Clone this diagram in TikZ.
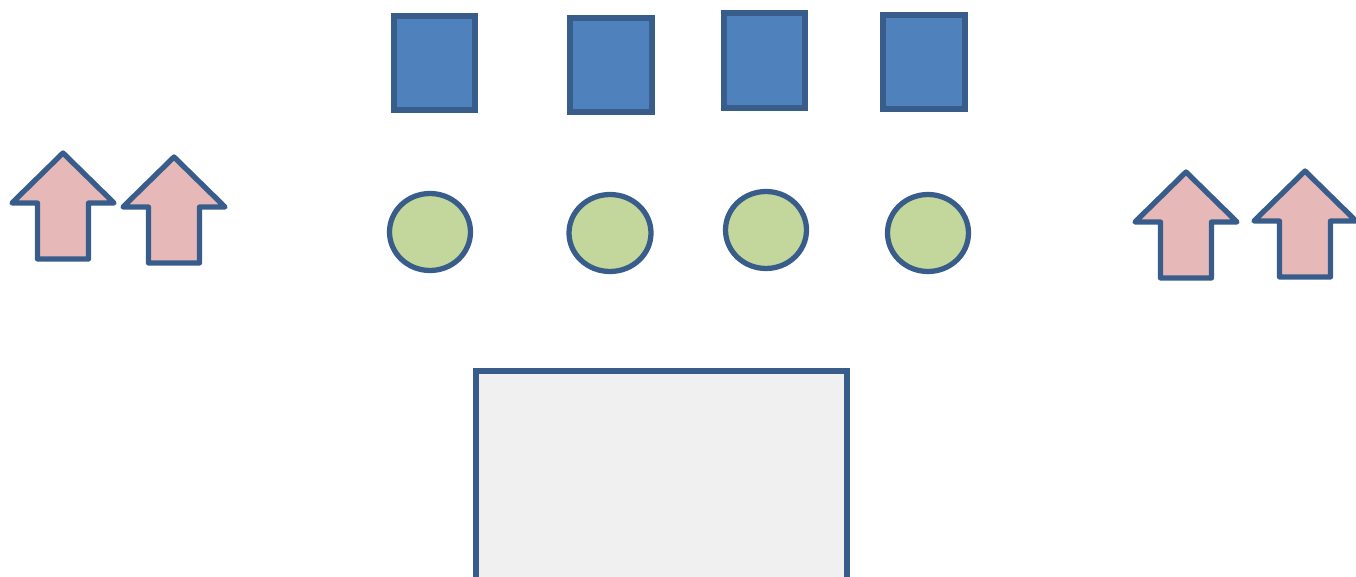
\documentclass[tikz,border=0pt]{standalone}
\usetikzlibrary{shapes.geometric}
\definecolor{boxblue}{RGB}{79,129,189}
\definecolor{edgeblue}{RGB}{56,93,138}
\definecolor{dotgreen}{RGB}{195,214,155}
\definecolor{arrowpink}{RGB}{230,185,184}
\definecolor{padgray}{RGB}{240,240,240}
\tikzset{
  blockbox/.style={draw=edgeblue, fill=boxblue, line width=3pt, inner sep=0pt},
  dotnode/.style={ellipse, draw=edgeblue, fill=dotgreen, line width=3pt, inner sep=0pt},
  uparrow/.style={draw=edgeblue, fill=arrowpink, line width=3pt, line join=round},
  padbox/.style={draw=edgeblue, fill=padgray, line width=3pt, inner sep=0pt}
}
% up arrow: tip x, tip y (pixels)
\newcommand{\pinkarrow}[2]{%
  \draw[uparrow] (#1,#2) -- ++(51,50) -- ++(-25.5,0) -- ++(0,56) -- ++(-51,0)
    -- ++(0,-56) -- ++(-25.5,0) -- cycle;}
\begin{document}
\begin{tikzpicture}[x=0.02cm, y=-0.02cm]
\useasboundingbox (0,0) rectangle (1356,577);
% blue squares
\node[blockbox, minimum width=1.62cm, minimum height=1.88cm] (sq1) at (434.5,63) {};
\node[blockbox, minimum width=1.64cm, minimum height=1.88cm] (sq2) at (611,65) {};
\node[blockbox, minimum width=1.62cm, minimum height=1.9cm] (sq3) at (764.5,60.5) {};
\node[blockbox, minimum width=1.64cm, minimum height=1.88cm] (sq4) at (924,62) {};
% green dots
\node[dotnode, minimum width=1.62cm, minimum height=1.54cm] (dot1) at (430,232) {};
\node[dotnode, minimum width=1.64cm, minimum height=1.54cm] (dot2) at (610,233) {};
\node[dotnode, minimum width=1.62cm, minimum height=1.54cm] (dot3) at (766,230) {};
\node[dotnode, minimum width=1.62cm, minimum height=1.54cm] (dot4) at (928,233) {};
% arrows
\pinkarrow{63}{153}
\pinkarrow{174}{157}
\pinkarrow{1186}{172}
\pinkarrow{1305}{171}
% pad
\draw[padbox] (476,600) -- (476,371) -- (847,371) -- (847,600);
\end{tikzpicture}
\end{document}
